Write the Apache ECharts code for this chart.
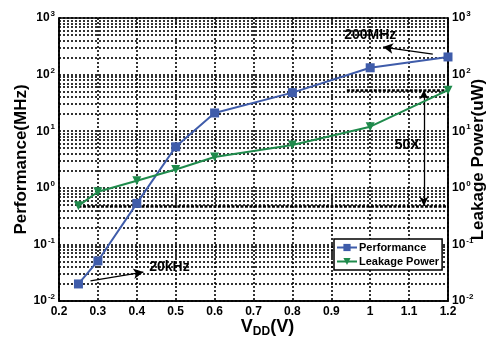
<!DOCTYPE html>
<html>
<head>
<meta charset="utf-8">
<script src="https://cdn.jsdelivr.net/npm/echarts@6/dist/echarts.min.js"></script>
<style>
  html, body { margin: 0; padding: 0; background: #fff; }
  #chart { width: 493px; height: 339px; }
</style>
</head>
<body>
<div id="chart"></div>
<script>
// Supply voltage sweep (V)
const vdd = [0.25, 0.3, 0.4, 0.5, 0.6, 0.8, 1.0, 1.2];
// Maximum operating frequency (MHz)
const performance = [0.02, 0.051, 0.53, 5.3, 21, 48, 132, 205];
// Leakage power (uW)
const leakage = [0.48, 0.85, 1.33, 2.1, 3.5, 5.7, 12, 53];
// X tick labels
const xTicks = ['0.2', '0.3', '0.4', '0.5', '0.6', '0.7', '0.8', '0.9', '1', '1.1', '1.2'];
// Log-axis decades
const decades = [-2, -1, 0, 1, 2, 3];

const FONT = 'Liberation Sans, Arial, sans-serif';
const BLUE = '#3f5caa';
const GREEN = '#1f8b4c';

// minor log grid values: 2..9 x 10^k
const minorValues = [];
for (let k = decades[0]; k < decades[decades.length - 1]; k++) {
  for (let m = 2; m <= 9; m++) minorValues.push(m * Math.pow(10, k));
}

const powLabel = v => {
  const e = Math.round(Math.log10(v));
  return '{b|10}{s|' + e + '}';
};
const powRich = {
  b: { fontFamily: FONT, fontWeight: 'bold', fontSize: 12, color: '#000' },
  s: { fontFamily: FONT, fontWeight: 'bold', fontSize: 8, color: '#000', verticalAlign: 'top', padding: [0, 0, 8, 1] }
};

const dash = { color: '#000', width: 1.6, type: [2, 2] };
const annoLabel = { show: true, position: 'inside', fontFamily: FONT, fontWeight: 'bold', fontSize: 14, color: '#000', formatter: p => p.name };
const titleStyle = { fontFamily: FONT, fontWeight: 'bold', fontSize: 17, color: '#000' };

const chart = echarts.init(document.getElementById('chart'));
chart.setOption({
  animation: false,
  backgroundColor: '#fff',
  grid: {
    left: 59, right: 45, top: 18, bottom: 38, outerBoundsMode: 'none', containLabel: false,
    show: true, borderColor: '#000', borderWidth: 1.5, backgroundColor: 'transparent'
  },
  legend: {
    orient: 'vertical', left: 334, top: 239, z: 20,
    backgroundColor: '#fff', borderColor: '#000', borderWidth: 1.5,
    padding: [3, 3, 3, 2], itemGap: 3, itemWidth: 20, itemHeight: 9,
    textStyle: { fontFamily: FONT, fontWeight: 'bold', fontSize: 11, color: '#000', padding: [0, 0, 0, -3] },
    data: ['Performance', 'Leakage Power']
  },
  xAxis: {
    type: 'value', min: 0.2, max: 1.2, interval: 0.1,
    axisLine: { lineStyle: { color: '#000', width: 1.5 } },
    axisTick: { show: false },
    axisLabel: {
      margin: 5, fontFamily: FONT, fontWeight: 'bold', fontSize: 12, color: '#000',
      formatter: v => xTicks[Math.round((v - 0.2) * 10)]
    },
    splitLine: { show: true, lineStyle: dash },
    name: '{a|V}{s|DD}{a|(V)}', nameLocation: 'middle', nameGap: 16, nameMoveOverlap: false,
    nameTextStyle: {
      padding: [0, 0, 0, 28],
      rich: {
        a: { fontFamily: FONT, fontWeight: 'bold', fontSize: 18, color: '#000' },
        s: { fontFamily: FONT, fontWeight: 'bold', fontSize: 12, color: '#000', verticalAlign: 'bottom', padding: [9, 0, 0, 0] }
      }
    }
  },
  yAxis: [{
    type: 'log', logBase: 10, min: 0.01, max: 1000,
    axisLine: { lineStyle: { color: '#000', width: 1.5 } },
    axisTick: { show: false },
    axisLabel: { margin: 4, formatter: powLabel, rich: powRich },
    splitLine: { show: true, lineStyle: dash },
    name: 'Performance(MHz)', nameLocation: 'middle', nameGap: 29, nameRotate: 90, nameMoveOverlap: false,
    nameTextStyle: titleStyle
  }, {
    type: 'log', logBase: 10, min: 0.01, max: 1000, position: 'right',
    axisLine: { lineStyle: { color: '#000', width: 1.5 } },
    axisTick: { show: false },
    axisLabel: { margin: 4, formatter: powLabel, rich: powRich },
    splitLine: { show: false },
    name: 'Leakage Power(uW)', nameLocation: 'middle', nameGap: 22, nameRotate: 90, nameMoveOverlap: false,
    nameTextStyle: titleStyle
  }],
  series: [{
    // minor log grid lines
    type: 'line', data: [], silent: true, z: 1,
    markLine: {
      silent: true, symbol: 'none', label: { show: false },
      lineStyle: dash, animation: false,
      data: minorValues.map(v => ({ yAxis: v }))
    }
  }, {
    name: 'Performance', type: 'line', yAxisIndex: 0,
    data: vdd.map((x, i) => [x, performance[i]]),
    symbol: 'rect', symbolSize: 9,
    lineStyle: { color: BLUE, width: 2 }, itemStyle: { color: BLUE },
    z: 5,
    markLine: {
      silent: true, animation: false,
      symbol: ['arrow', 'none'], symbolSize: [8, 10],
      lineStyle: { color: '#000', width: 1.3, type: 'solid' },
      label: { show: false },
      data: [
        [{ coord: [1.033, 307] }, { coord: [1.161, 231] }],
        [{ coord: [0.417, 0.0325] }, { coord: [0.281, 0.0226] }]
      ]
    },
    markPoint: {
      silent: true, symbol: 'rect', symbolSize: 1, itemStyle: { color: 'transparent' },
      label: annoLabel,
      data: [
        { name: '200MHz', coord: [1.0, 500] },
        { name: '20kHz', coord: [0.484, 0.039] }
      ]
    }
  }, {
    name: 'Leakage Power', type: 'line', yAxisIndex: 1,
    data: vdd.map((x, i) => [x, leakage[i]]),
    symbol: 'triangle', symbolRotate: 180, symbolSize: 9,
    lineStyle: { color: GREEN, width: 2 }, itemStyle: { color: GREEN },
    z: 5,
    markLine: {
      silent: true, animation: false,
      symbol: 'none',
      label: { show: false },
      lineStyle: { color: '#000', width: 2.5, type: [3, 1.5] },
      data: [
        [{ coord: [0.94, leakage[leakage.length - 1]] }, { coord: [1.2, leakage[leakage.length - 1]] }],
        [{ coord: [0.25, leakage[0]] }, { coord: [1.2, leakage[0]] }],
        [{ coord: [1.138, leakage[0]], symbol: 'arrow', symbolSize: [7, 9] },
         { coord: [1.138, leakage[leakage.length - 1]], symbol: 'arrow', symbolSize: [7, 9], lineStyle: { width: 1.3, type: 'solid' } }]
      ]
    },
    markPoint: {
      silent: true, symbol: 'rect', symbolSize: 1, itemStyle: { color: 'transparent' },
      label: annoLabel,
      data: [{ name: '50X', coord: [1.095, 5.6] }]
    }
  }]
});
</script>
</body>
</html>
